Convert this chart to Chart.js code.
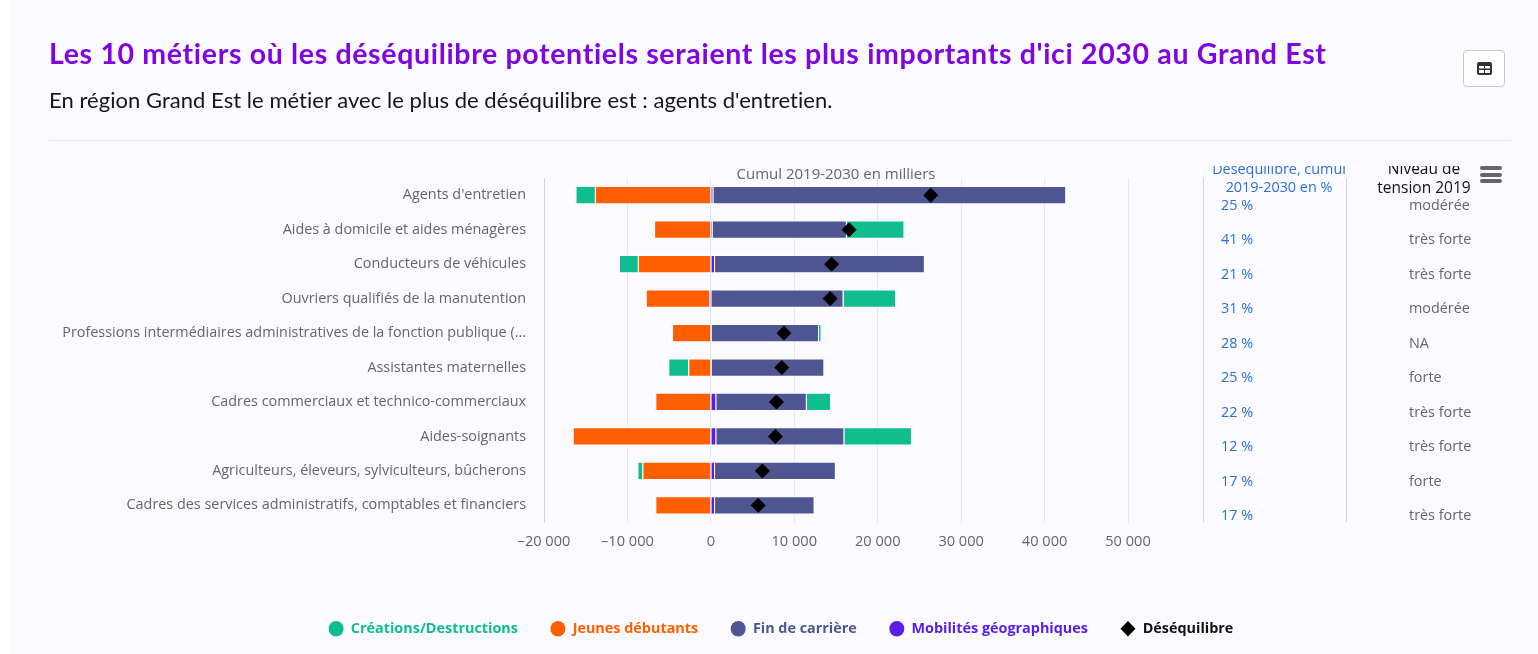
<!DOCTYPE html>
<html lang="fr">
<head>
<meta charset="utf-8">
<title>Déséquilibres potentiels Grand Est</title>
<script src="https://cdn.jsdelivr.net/npm/chart.js@4"></script>
<style>
    html, body { margin: 0; padding: 0; background: #fff; overflow: hidden; }
    #panel { position: absolute; left: 10px; top: 0; width: 1528px; height: 654px; background: #fbfbff; }
    #chart { position: absolute; left: 0; top: 0; }
    h1 { position: absolute; left: 49px; top: 36px; margin: 0; font: 700 28.5px Lato, sans-serif; color: #7f06e0; white-space: nowrap; letter-spacing: 0.66px; }
    h2 { position: absolute; left: 49px; top: 86px; margin: 0; font: 400 22px Lato, sans-serif; color: #161616; white-space: nowrap; letter-spacing: 0.04px; }
    #rule { position: absolute; left: 49px; top: 140px; width: 1462px; height: 1px; background: #e8e8ec; }
    #tableBtn { position: absolute; left: 1463px; top: 50px; width: 40px; height: 35px; background: #fff; border: 1px solid #c8c8cc; border-radius: 4px; }
    #tableBtn svg { position: absolute; left: 13px; top: 11px; }
    #menu { position: absolute; left: 1480px; top: 166px; width: 22px; }
    #menu span { display: block; height: 4px; margin-bottom: 2.5px; background: #666; border-radius: 2px; }
</style>
</head>
<body>
<div id="panel"></div>
<canvas id="chart" width="1538" height="654"></canvas>
<h1>Les 10 métiers où les déséquilibre potentiels seraient les plus importants d'ici 2030 au Grand Est</h1>
<h2>En région Grand Est le métier avec le plus de déséquilibre est : agents d'entretien.</h2>
<div id="rule"></div>
<div id="tableBtn">
    <svg width="15" height="13" viewBox="0 0 15 13"><path fill="#333" fill-rule="evenodd" d="M2 0h11a2 2 0 0 1 2 2v9a2 2 0 0 1-2 2H2a2 2 0 0 1-2-2V2a2 2 0 0 1 2-2zM2 4v2.5h5V4zM8 4v2.5h5V4zM2 8v3h5V8zM8 8v3h5V8z"/></svg>
</div>
<div id="menu"><span></span><span></span><span></span></div>

<script>
// ==========================
// DATA
// ==========================
const metiers = [
    "Agents d'entretien",
    "Aides à domicile et aides ménagères",
    "Conducteurs de véhicules",
    "Ouvriers qualifiés de la manutention",
    "Professions intermédiaires administratives de la fonction publique (...",
    "Assistantes maternelles",
    "Cadres commerciaux et technico-commerciaux",
    "Aides-soignants",
    "Agriculteurs, éleveurs, sylviculteurs, bûcherons",
    "Cadres des services administratifs, comptables et financiers"
];
const creations = [-2320, 6900, -2270, 6300, 300, -2400, 2900, 8100, -600, 0];
const jeunes = [-13900, -6800, -8750, -7600, -4650, -2700, -6650, -16550, -8200, -6650];
const finCarriere = [42290, 16100, 25150, 15900, 12860, 13500, 10850, 15350, 14480, 11930];
const mobilites = [300, 200, 500, -200, 100, 100, 650, 650, 500, 500];
const desequilibre = [26360, 16570, 14470, 14300, 8760, 8500, 7860, 7730, 6180, 5670];
const pctDesequilibre = ["25 %", "41 %", "21 %", "31 %", "28 %", "25 %", "22 %", "12 %", "17 %", "17 %"];
const niveauTension = ["modérée", "très forte", "très forte", "modérée", "NA", "forte", "très forte", "très forte", "forte", "très forte"];
const xTickLabels = ["–20 000", "–10 000", "0", "10 000", "20 000", "30 000", "40 000", "50 000"];

// ==========================
// COLORS
// ==========================
const GREEN = "#10bd8f";
const ORANGE = "#ff5f00";
const NAVY = "#4f5590";
const PURPLE = "#5a1eeb";
const AXIS_LINE = "#ccd6eb";
const GRID = "#e6e6f0";
const LABEL = "#666666";
const BLUE = "#2b6fdc";
const FONT = "'Open Sans', sans-serif";

// ==========================
// COLUMNS NEXT TO THE BARS
// ==========================
const sideColumns = {
    id: "sideColumns",
    afterDraw(chart) {
        const { ctx, scales } = chart;
        const { top, bottom } = chart.chartArea;

        ctx.save();
        ctx.strokeStyle = AXIS_LINE;
        ctx.lineWidth = 1;
        [1203.5, 1346.5].forEach(x => {
            ctx.beginPath();
            ctx.moveTo(x, top);
            ctx.lineTo(x, bottom);
            ctx.stroke();
        });

        ctx.font = "14.4px " + FONT;
        ctx.textBaseline = "middle";
        ctx.textAlign = "left";
        metiers.forEach((m, i) => {
            const y = scales.y.getPixelForValue(i) + 10.5;
            ctx.fillStyle = BLUE;
            ctx.fillText(pctDesequilibre[i], 1221, y);
            ctx.fillStyle = LABEL;
            ctx.fillText(niveauTension[i], 1409, y);
        });

        // axis title
        ctx.font = "15px " + FONT;
        ctx.textAlign = "center";
        ctx.fillStyle = LABEL;
        ctx.fillText("Cumul 2019-2030 en milliers", 836, 175);

        // column headers are cut off at the top in the original
        ctx.beginPath();
        ctx.rect(1190, 166, 300, 40);
        ctx.clip();
        ctx.font = "14.4px " + FONT;
        ctx.fillStyle = BLUE;
        ctx.fillText("Déséquilibre, cumul", 1279, 170);
        ctx.fillText("2019-2030 en %", 1279, 188);
        ctx.font = "15.5px " + FONT;
        ctx.fillStyle = "#111111";
        ctx.fillText("Niveau de", 1424, 170);
        ctx.fillText("tension 2019", 1424, 189);
        ctx.restore();
    }
};

// ==========================
// CHART
// ==========================
const barDefaults = {
    type: "bar",
    borderColor: "#ffffff",
    borderWidth: 1,
    barPercentage: 0.53,
    categoryPercentage: 1
};

new Chart(document.getElementById("chart"), {
    data: {
        labels: metiers,
        datasets: [
            { ...barDefaults, label: "Créations/Destructions", data: creations, backgroundColor: GREEN, order: 4 },
            { ...barDefaults, label: "Jeunes débutants", data: jeunes, backgroundColor: ORANGE, order: 3 },
            { ...barDefaults, label: "Fin de carrière", data: finCarriere, backgroundColor: NAVY, order: 2 },
            { ...barDefaults, label: "Mobilités géographiques", data: mobilites, backgroundColor: PURPLE, order: 1 },
            {
                type: "line",
                label: "Déséquilibre",
                data: desequilibre,
                showLine: false,
                pointStyle: "rectRot",
                pointRadius: 7,
                pointHoverRadius: 7,
                backgroundColor: "#000000",
                borderColor: "#000000",
                order: 0
            }
        ]
    },
    options: {
        indexAxis: "y",
        responsive: false,
        animation: false,
        layout: { padding: { top: 178, bottom: 8, left: 24 } },
        scales: {
            x: {
                stacked: true,
                min: -20000,
                max: 50000,
                afterFit: scale => { scale.height = 66.5; },
                grid: { color: GRID, drawTicks: false },
                border: { display: false },
                ticks: {
                    stepSize: 10000,
                    padding: 10,
                    color: LABEL,
                    font: { family: FONT, size: 14.6 },
                    maxRotation: 0,
                    callback: (value, index) => xTickLabels[index]
                }
            },
            y: {
                stacked: true,
                afterFit: scale => { scale.width = 520; },
                grid: { display: false, drawTicks: false },
                border: { color: AXIS_LINE },
                ticks: {
                    autoSkip: false,
                    padding: 18,
                    color: LABEL,
                    font: { family: FONT, size: 14.4 }
                }
            },
            right: {
                type: "category",
                position: "right",
                afterFit: scale => { scale.width = 410; },
                grid: { display: false },
                border: { display: false },
                ticks: { display: false }
            }
        },
        plugins: {
            tooltip: { enabled: false },
            legend: {
                position: "bottom",
                labels: {
                    usePointStyle: true,
                    pointStyleWidth: 15,
                    boxHeight: 11,
                    padding: 32.5,
                    font: { family: FONT, size: 14.4, weight: "bold" },
                    generateLabels: chart => chart.data.datasets.map((d, i) => ({
                        text: d.label,
                        datasetIndex: i,
                        fontColor: d.type === "line" ? "#111111" : d.backgroundColor,
                        fillStyle: d.backgroundColor,
                        strokeStyle: d.backgroundColor,
                        lineWidth: 0,
                        pointStyle: d.type === "line" ? "rectRot" : "circle"
                    }))
                }
            }
        }
    },
    plugins: [sideColumns]
});
</script>
</body>
</html>
